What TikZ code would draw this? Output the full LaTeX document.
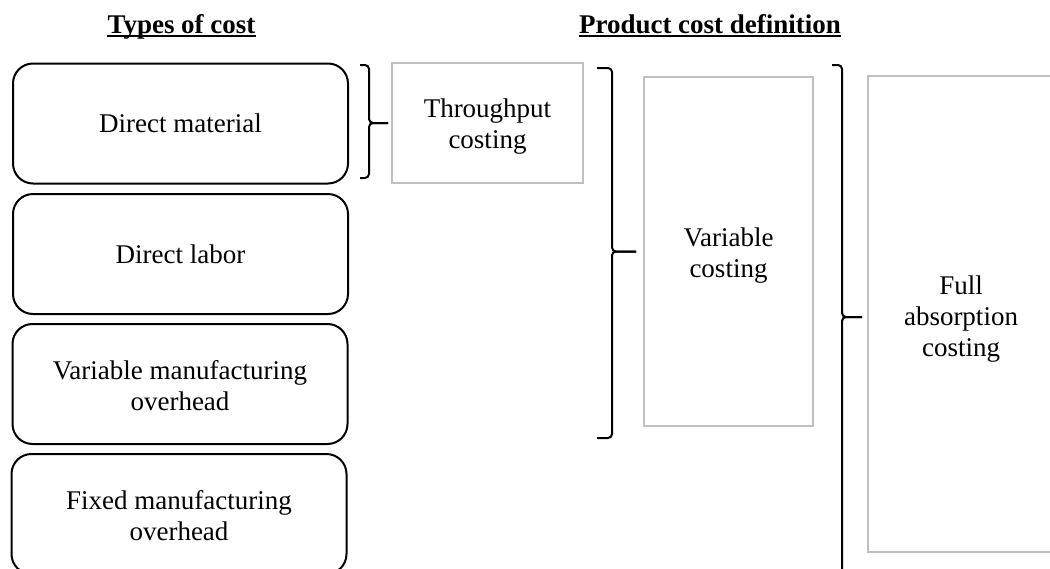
\documentclass[tikz,border=0pt]{standalone}
\usepackage{fontspec}
\setmainfont{Liberation Serif}
\usetikzlibrary{calc}
\definecolor{boxgray}{RGB}{192,192,192}

\begin{document}
\begin{tikzpicture}[x=1pt,y=-1pt,
  every node/.style={font=\fontsize{27}{31}\selectfont, align=center, inner sep=0pt},
  costbox/.style={draw=black, line width=2pt, rounded corners=20pt,
                  minimum width=335pt, minimum height=120pt},
  methodbox/.style={draw=boxgray, line width=2pt},
  heading/.style={font=\fontsize{27}{31}\selectfont\bfseries, anchor=base},
  bracket/.style={draw=black, line width=2pt, rounded corners=4pt},
  underbar/.style={draw=black, line width=1.5pt},
]
\path[use as bounding box] (0,0) rectangle (1050,568);
\clip (0,0) rectangle (1050,568);

% headings
\node[heading] (h1) at (181.5,33) {Types of cost};
\node[heading] (h2) at (710,33) {Product cost definition};
\draw[underbar] ([yshift=-3pt]h1.base west) -- ([yshift=-3pt]h1.base east);
\draw[underbar] ([yshift=-3pt]h2.base west) -- ([yshift=-3pt]h2.base east);

% types of cost
\node[costbox] (dm) at (180.5,123.5) {Direct material};
\node[costbox] (dl) at (180.5,254) {Direct labor};
\node[costbox] (vo) at (180,384) {};
\node (vot) at ([yshift=-2pt]vo.center) {Variable manufacturing\\overhead};
\node[costbox] (fo) at (179,514) {};
\node (fot) at ([yshift=-2pt]fo.center) {Fixed manufacturing\\overhead};

% product cost definitions
\node[methodbox, minimum width=191pt, minimum height=120pt] (tp) at (487.5,123) {};
\node (tpt) at ([yshift=-4pt]tp.center) {Throughput\\costing};
\node[methodbox, minimum width=169pt, minimum height=349pt] (vc) at (728.5,251.5) {};
\node (vct) at ([yshift=-4pt]vc.center) {Variable\\costing};
\node[methodbox, minimum width=186pt, minimum height=476pt] (fa) at (961,314) {};
\node (fat) at ([yshift=-5pt]fa.center) {Full\\absorption\\costing};

% brackets grouping the cost types
\coordinate (t1) at ($(tp.west)+(-3,0)$);
\draw[bracket] ($(t1)+(-28,-58)$) -- ($(t1)+(-19,-58)$) -- ($(t1)+(-19,0)$) -- (t1);
\draw[bracket] ($(t1)+(-28,55)$) -- ($(t1)+(-19,55)$) -- ($(t1)+(-19,0)$) -- (t1);

\coordinate (t2) at ($(vc.west)+(-7,0)$);
\draw[bracket] ($(t2)+(-39,-183.5)$) -- ($(t2)+(-24,-183.5)$) -- ($(t2)+(-24,0)$) -- (t2);
\draw[bracket] ($(t2)+(-39,186.5)$) -- ($(t2)+(-24,186.5)$) -- ($(t2)+(-24,0)$) -- (t2);

\coordinate (t3) at ($(fa.west)+(-5,3)$);
\draw[bracket] ($(t3)+(-30,-252)$) -- ($(t3)+(-20,-252)$) -- ($(t3)+(-20,0)$) -- (t3);
\draw[bracket] ($(t3)+(-30,258)$) -- ($(t3)+(-20,258)$) -- ($(t3)+(-20,0)$) -- (t3);
\end{tikzpicture}
\end{document}
